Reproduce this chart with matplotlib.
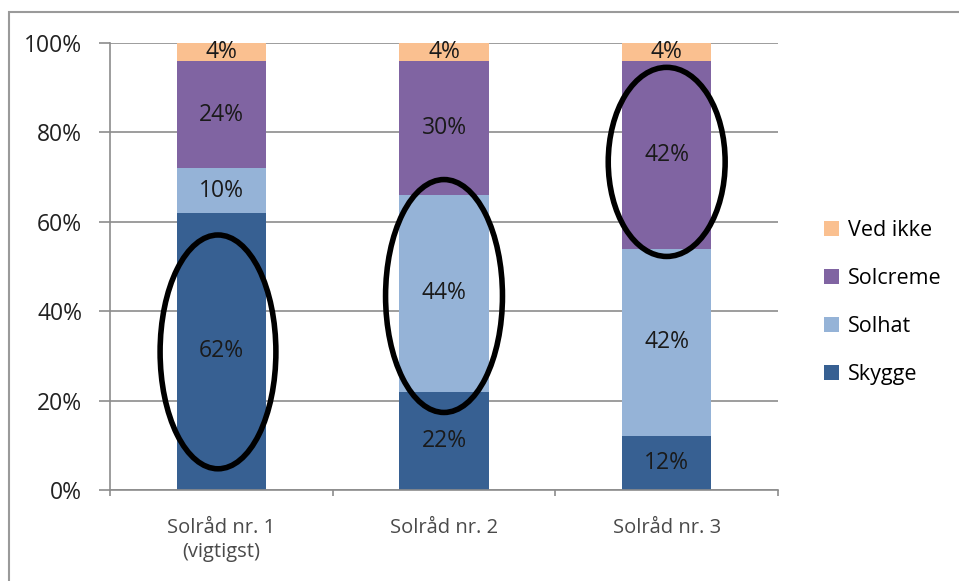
import matplotlib.pyplot as plt
import numpy as np
from matplotlib.patches import Ellipse, Rectangle

plt.rcParams['font.family'] = ['Open Sans', 'DejaVu Sans']

categories = ["Solråd nr. 1\n(vigtigst)", "Solråd nr. 2", "Solråd nr. 3"]
series = ["Skygge", "Solhat", "Solcreme", "Ved ikke"]
skygge = [62, 22, 12]
solhat = [10, 44, 42]
solcreme = [24, 30, 42]
ved_ikke = [4, 4, 4]
colors = ["#376092", "#95B3D7", "#8064A2", "#FAC090"]

# circled highlights: (category index, centre %, width, height %)
highlights = [(-0.015, 30.9, 0.52, 52.3), (1.0, 43.4, 0.525, 52.1), (2.0, 73.4, 0.525, 42.3)]

fig = plt.figure(figsize=(9.59, 5.81), dpi=100)
fig.patches.append(Rectangle((9 / 959, -0.1), 1.2, 1 - 12 / 581 + 0.1, transform=fig.transFigure,
                             fill=False, edgecolor="#9a9a9a", linewidth=1.5))
ax = fig.add_axes([0.1147, 0.1566, 0.6966, 0.7694])

x = np.arange(len(categories))
bottom = np.zeros(len(categories))
for name, vals, c in zip(series, [skygge, solhat, solcreme, ved_ikke], colors):
    bars = ax.bar(x, vals, 0.4, bottom=bottom, color=c, label=name, zorder=2)
    ax.bar_label(bars, labels=[f"{v}%" for v in vals], label_type="center",
                 fontsize=16.5, color="#1a1a1a")
    bottom += vals

for cx, cy, w, h in highlights:
    ax.add_patch(Ellipse((cx, cy), w, h, fill=False, edgecolor="black", linewidth=4, zorder=5))

ax.set_xlim(-0.5, 2.5)
ax.set_ylim(0, 100)
ax.set_yticks(np.arange(0, 101, 20))
ax.set_yticklabels([f"{v}%" for v in range(0, 101, 20)], fontsize=16.5, color="#222222")
ax.yaxis.grid(True, color="#8c8c8c", linewidth=1.2, zorder=0)
ax.set_axisbelow(True)
ax.tick_params(axis="y", length=8, color="#8c8c8c", width=1.2, pad=12)

ax.set_xticks([-0.5, 0.5, 1.5, 2.5])
ax.set_xticklabels([])
ax.set_xticks(x, minor=True)
ax.set_xticklabels(categories, minor=True, fontsize=14.5, color="#4a4a4a", linespacing=1.25)
ax.tick_params(axis="x", which="major", length=4, color="#8c8c8c", width=1.2)
ax.tick_params(axis="x", which="minor", length=0, pad=20)

for s in ["top", "right"]:
    ax.spines[s].set_visible(False)
for s in ["left", "bottom"]:
    ax.spines[s].set_color("#8c8c8c")
    ax.spines[s].set_linewidth(1.2)

h, l = ax.get_legend_handles_labels()
ax.legend(h[::-1], l[::-1], loc="center left", bbox_to_anchor=(1.04, 0.42), frameon=False,
          fontsize=15.5, handlelength=0.7, handleheight=0.7, labelspacing=1.25, handletextpad=0.4)

fig.savefig("out.png", dpi=100)
